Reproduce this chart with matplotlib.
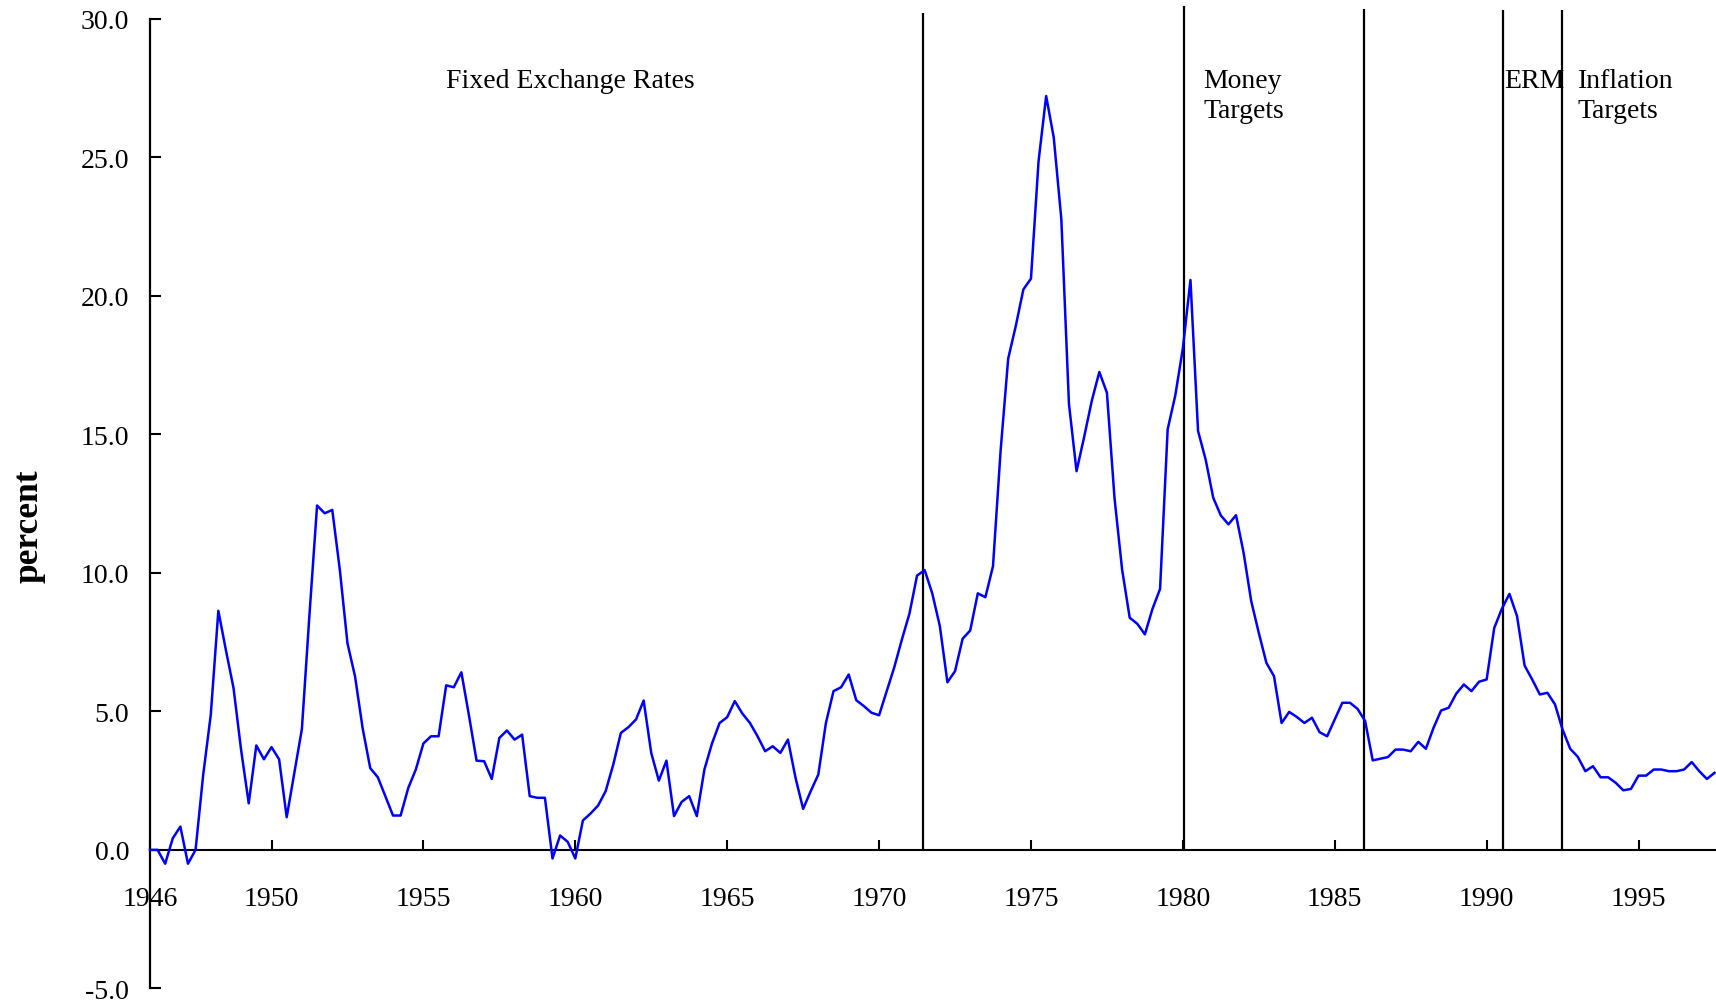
import numpy as np
import matplotlib.pyplot as plt

plt.rcParams['font.family']=['Liberation Serif', 'DejaVu Serif']

#quarterly inflation (percent), first quarter 1946 onwards
START_YEAR=1946
inflation=[
    0.0, 0.0, -0.5, 0.42, 0.84, -0.5, 0.0, 2.7, 4.87, 8.63,
    7.2, 5.84, 3.6, 1.68, 3.77, 3.27, 3.71, 3.27, 1.18, 2.77,
    4.36, 8.5, 12.43, 12.15, 12.27, 10.1, 7.46, 6.26, 4.39, 2.95,
    2.62, 1.93, 1.24, 1.24, 2.23, 2.9, 3.84, 4.1, 4.1, 5.94,
    5.87, 6.41, 4.85, 3.22, 3.2, 2.56, 4.04, 4.31, 3.98, 4.16,
    1.94, 1.88, 1.88, -0.31, 0.52, 0.29, -0.31, 1.06, 1.31, 1.6,
    2.12, 3.08, 4.22, 4.43, 4.71, 5.39, 3.5, 2.5, 3.22, 1.22,
    1.73, 1.94, 1.22, 2.9, 3.84, 4.58, 4.79, 5.37, 4.92, 4.58,
    4.1, 3.56, 3.74, 3.5, 3.98, 2.6, 1.48, 2.12, 2.72, 4.58,
    5.73, 5.87, 6.33, 5.4, 5.19, 4.95, 4.86, 5.73, 6.59, 7.59,
    8.53, 9.9, 10.1, 9.26, 8.08, 6.05, 6.45, 7.62, 7.92, 9.26,
    9.12, 10.24, 14.4, 17.73, 18.91, 20.23, 20.62, 24.86, 27.21, 25.71,
    22.76, 16.1, 13.67, 14.9, 16.2, 17.25, 16.5, 12.7, 10.12, 8.38,
    8.16, 7.78, 8.7, 9.42, 15.18, 16.4, 18.1, 20.57, 15.12, 14.09,
    12.71, 12.07, 11.75, 12.08, 10.72, 8.98, 7.83, 6.75, 6.27, 4.58,
    4.98, 4.8, 4.58, 4.77, 4.25, 4.1, 4.71, 5.31, 5.31, 5.09,
    4.65, 3.23, 3.29, 3.35, 3.62, 3.62, 3.56, 3.9, 3.65, 4.4,
    5.03, 5.13, 5.64, 5.97, 5.73, 6.07, 6.15, 8.01, 8.7, 9.24,
    8.44, 6.65, 6.15, 5.61, 5.67, 5.25, 4.34, 3.65, 3.36, 2.84,
    3.02, 2.62, 2.62, 2.42, 2.15, 2.2, 2.68, 2.68, 2.9, 2.9,
    2.84, 2.84, 2.9, 3.17, 2.84, 2.56, 2.78,
]
quarters=START_YEAR+np.arange(len(inflation))/4

#policy regime boundaries and names
regime_breaks=[1971.45, 1980.03, 1985.95, 1990.55, 1992.48]
break_tops=[30.2, 30.45, 30.35, 30.3, 30.3]
regime_names=["Fixed Exchange Rates", "Money\nTargets", "ERM", "Inflation\nTargets"]
name_x=[1959.83, 1980.67, 1990.59, 1993.0]
name_ha=["center", "left", "left", "left"]

x_ticks=[1946, 1950, 1955, 1960, 1965, 1970, 1975, 1980, 1985, 1990, 1995]
y_ticks=[-5, 0, 5, 10, 15, 20, 25, 30]

fig=plt.figure(figsize=(17.16, 10.04), dpi=100)
ax=fig.add_axes([0.08741, 0.01454, 0.91259, 0.9658])

ax.plot(quarters, inflation, color="#0000ff", lw=1.8, zorder=3, clip_on=False)
for xb, top in zip(regime_breaks, break_tops):
    ax.vlines(xb, 0, top, colors="black", lw=1.6, zorder=2, clip_on=False)

#one text per line so the first line sits on a common baseline
for name, x, ha in zip(regime_names, name_x, name_ha):
    for k, line in enumerate(name.split("\n")):
        ax.text(x, 27.53-k*1.065, line, ha=ha, va="baseline", fontsize=20)

#axes: left spine plus a zero line
ax.set_xlim(1946, 1997.55)
ax.set_ylim(-5, 30)
for side in ["top", "right"]:
    ax.spines[side].set_visible(False)
ax.spines["bottom"].set_position(("data", 0))
ax.spines["bottom"].set_linewidth(1.5)
ax.spines["left"].set_linewidth(1.6)

ax.set_xticks(x_ticks)
ax.set_xticklabels([str(y) for y in x_ticks])
ax.set_yticks(y_ticks)
ax.set_yticklabels([f"{v:.1f}" for v in y_ticks])
ax.tick_params(axis="y", direction="in", length=8, width=1.5, pad=15, labelsize=20)
ax.tick_params(axis="x", direction="in", length=7, width=1.5, pad=26, labelsize=20)

fig.text(29.5/1716, 1-526/1004, "percent", rotation=90, fontsize=25.5,
         fontweight="bold", ha="center", va="center")

fig.savefig("out.png", dpi=100)
